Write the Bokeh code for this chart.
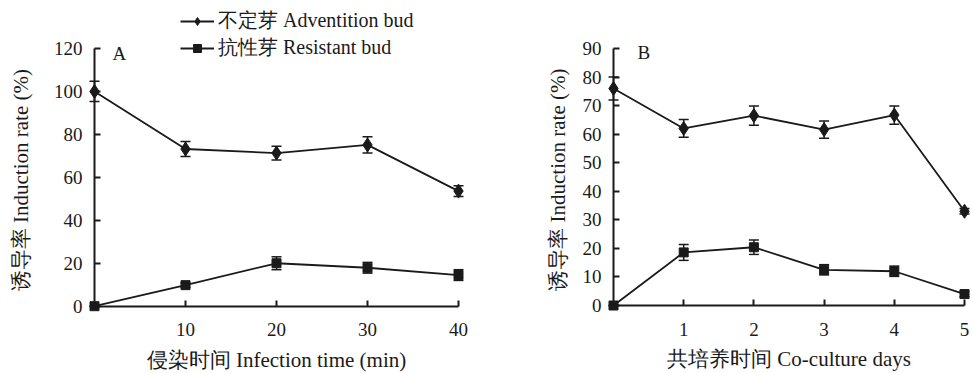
from bokeh.plotting import figure
from bokeh.layouts import row
from bokeh.models import (ColumnDataSource, Range1d, FixedTicker, Whisker, TeeHead,
                          Legend, LegendItem, Label)
from bokeh.embed import file_html
from bokeh.resources import INLINE

# ---------------- data ----------------
infection_time = [0, 10, 20, 30, 40]
adv_A = [100.0, 73.2, 71.3, 75.1, 53.6]
adv_A_err = [4.7, 3.5, 3.2, 3.8, 2.5]
res_A = [0.0, 9.8, 20.0, 17.9, 14.5]
res_A_err = [0.0, 1.0, 3.0, 2.5, 2.5]

coculture_days = [0, 1, 2, 3, 4, 5]
adv_B = [76.0, 62.0, 66.5, 61.6, 66.7, 33.0]
adv_B_err = [4.0, 3.1, 3.4, 3.0, 3.2, 1.0]
res_B = [0.0, 18.6, 20.4, 12.5, 12.0, 4.0]
res_B_err = [0.0, 2.8, 2.5, 1.8, 1.8, 1.0]

xticks_A = [10, 20, 30, 40]
yticks_A = [0, 20, 40, 60, 80, 100, 120]
xticks_B = [1, 2, 3, 4, 5]
yticks_B = [0, 10, 20, 30, 40, 50, 60, 70, 80, 90]

FONT = "Liberation Serif"
BLACK = "#1a1a1a"


def make_fig(w, h, xr, yr):
    p = figure(width=w, height=h, output_backend="svg", toolbar_location=None,
               x_range=Range1d(*xr), y_range=Range1d(*yr),
               min_border_left=0, min_border_right=0,
               min_border_top=0, min_border_bottom=0)
    p.outline_line_color = None
    p.xgrid.visible = False
    p.ygrid.visible = False
    return p


def style(p, xticks, yticks, xb, yb, xlabel, ylabel, ylab_standoff):
    p.xaxis.fixed_location = 0
    p.yaxis.fixed_location = 0
    p.xaxis.ticker = FixedTicker(ticks=xticks)
    p.yaxis.ticker = FixedTicker(ticks=yticks)
    p.xaxis.bounds = xb
    p.yaxis.bounds = yb
    for ax in (p.xaxis[0], p.yaxis[0]):
        ax.axis_line_width = 2
        ax.axis_line_color = BLACK
        ax.major_tick_line_color = BLACK
        ax.major_tick_line_width = 2
        ax.major_tick_in = 6
        ax.major_tick_out = 0
        ax.minor_tick_line_color = None
        ax.major_label_text_font = FONT
        ax.major_label_text_font_size = "19px"
        ax.major_label_text_color = BLACK
        ax.axis_label_text_font = FONT
        ax.axis_label_text_font_size = "21px"
        ax.axis_label_text_font_style = "normal"
        ax.axis_label_text_color = BLACK
    p.xaxis.axis_label = xlabel
    p.yaxis.axis_label = ylabel
    p.xaxis.major_label_standoff = 17
    p.yaxis.major_label_standoff = 12
    p.xaxis.axis_label_standoff = 8
    p.yaxis.axis_label_standoff = ylab_standoff


def series(p, x, y, err, marker, size):
    src = ColumnDataSource(dict(x=x, y=y,
                                lo=[a - b for a, b in zip(y, err)],
                                hi=[a + b for a, b in zip(y, err)]))
    w = Whisker(base="x", lower="lo", upper="hi", source=src,
                line_color=BLACK, line_width=1.5,
                lower_head=TeeHead(size=10, line_color=BLACK, line_width=1.5),
                upper_head=TeeHead(size=10, line_color=BLACK, line_width=1.5))
    p.add_layout(w)
    l = p.line("x", "y", source=src, line_color=BLACK, line_width=1.8)
    s = p.scatter("x", "y", source=src, marker=marker, size=size,
                  fill_color=BLACK, line_color=BLACK)
    return l, s


# ---------------- panel A ----------------
ax_px, ay_px = 9.1, 257.7 / 120
pA = make_fig(480, 373, (-94 / ax_px, (480 - 94) / ax_px),
              (-(373 - 305.7) / ay_px, 120 + 48 / ay_px))
style(pA, xticks_A, yticks_A, (0, 40), (0, 120),
      "侵染时间 Infection time (min)", "诱导率  Induction rate (%)", 18)
la, sa = series(pA, infection_time, adv_A, adv_A_err, "diamond", 14)
lr, sr = series(pA, infection_time, res_A, res_A_err, "square", 9)

legend = Legend(items=[LegendItem(label="不定芽 Adventition bud", renderers=[la, sa]),
                       LegendItem(label="抗性芽 Resistant bud", renderers=[lr, sr])],
                location=(180, 312), orientation="vertical",
                background_fill_alpha=0, border_line_color=None,
                label_text_font=FONT, label_text_font_size="20px",
                label_text_color=BLACK,
                glyph_width=34, glyph_height=20, label_height=20,
                spacing=-1, padding=0, margin=0, label_standoff=4)
pA.add_layout(legend)
pA.add_layout(Label(x=0, y=120, x_offset=18, y_offset=-5, text="A",
                    text_font=FONT, text_font_size="19px", text_color=BLACK,
                    text_baseline="middle"))

# ---------------- panel B ----------------
bx_px, by_px = 351 / 5, 257 / 90
pB = make_fig(493, 373, (-133 / bx_px, (493 - 133) / bx_px),
              (-68 / by_px, 90 + 48 / by_px))
style(pB, xticks_B, yticks_B, (0, 5), (0, 90),
      "共培养时间 Co-culture days", "诱导率  Induction rate (%)", 10)
series(pB, coculture_days, adv_B, adv_B_err, "diamond", 14)
series(pB, coculture_days, res_B, res_B_err, "square", 9)
pB.add_layout(Label(x=0, y=90, x_offset=24, y_offset=-4, text="B",
                    text_font=FONT, text_font_size="19px", text_color=BLACK,
                    text_baseline="middle"))

layout = row(pA, pB, spacing=0)
open("out.html", "w").write(file_html(layout, INLINE))
